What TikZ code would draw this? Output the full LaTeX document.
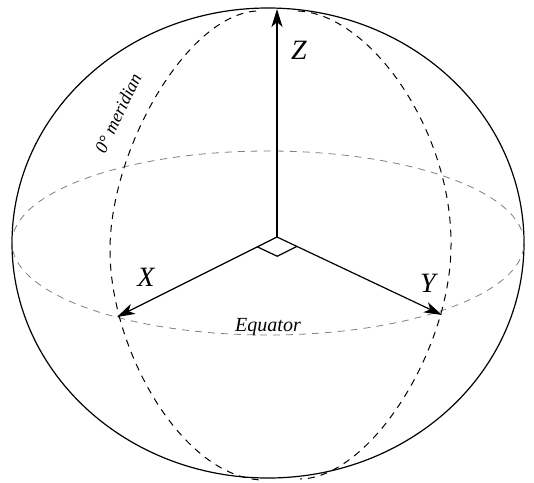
\documentclass[tikz,border=0pt]{standalone}
\usepackage{fontspec}
\setmainfont{Liberation Serif}
\usetikzlibrary{arrows.meta,calc}
\tikzset{
  outerline/.style={line width=1.2pt, black},
  equatorline/.style={line width=0.8pt, gray, dash pattern=on 7pt off 6pt},
  meridianline/.style={line width=1pt, black, dash pattern=on 7pt off 6pt},
  axisline/.style={line width=1.2pt, black, -{Stealth[length=18pt,width=11pt,inset=5pt]}},
  markline/.style={line width=1.2pt, black},
  axislabel/.style={font=\fontsize{28}{30}\selectfont\itshape, inner sep=0pt},
  eqlabel/.style={font=\fontsize{20}{22}\selectfont\itshape, inner sep=0pt},
  merlabel/.style={font=\fontsize{18}{20}\selectfont\itshape, inner sep=0pt}
}
\begin{document}
\begin{tikzpicture}[x=1pt,y=1pt]
\useasboundingbox (0,0) rectangle (534,-482);
% outer sphere outline
\draw[outerline] (268,-243) ellipse [x radius=256, y radius=235];
% equator
\draw[equatorline] (268,-243) ellipse [x radius=256, y radius=92];
% meridians
\draw[meridianline] (256,-11) .. controls (186,-16) and (110,-150) .. (110,-250)
  .. controls (110,-350) and (182,-477) .. (262,-480);
\draw[meridianline] (298,-11) .. controls (370,-14) and (452,-130) .. (451,-245)
  .. controls (451,-350) and (370,-478) .. (300,-479);
% axes
\coordinate (O) at (277,-237);
\coordinate (Zt) at (277,-9);
\coordinate (Xt) at (117,-317);
\coordinate (Yt) at (442,-315);
\draw[axisline] (O) -- (Zt);
\draw[axisline] (O) -- (Xt);
\draw[axisline] (O) -- (Yt);
% right angle marker
\coordinate (ra) at ($(O)!22pt!(Xt)$);
\coordinate (rb) at ($(O)!22pt!(Yt)$);
\coordinate (rc) at ($(ra)+(rb)-(O)$);
\draw[markline] (ra) -- (rc) -- (rb);
% labels
\node[axislabel] (zl) at (299,-50) {Z};
\node[axislabel] (xl) at (146,-277) {X};
\node[axislabel] (yl) at (428,-283) {Y};
\node[eqlabel, anchor=base] (eq) at (268,-331) {Equator};
\node[merlabel, rotate=64.6] (mer) at (118,-113) {0° meridian};
\end{tikzpicture}
\end{document}
